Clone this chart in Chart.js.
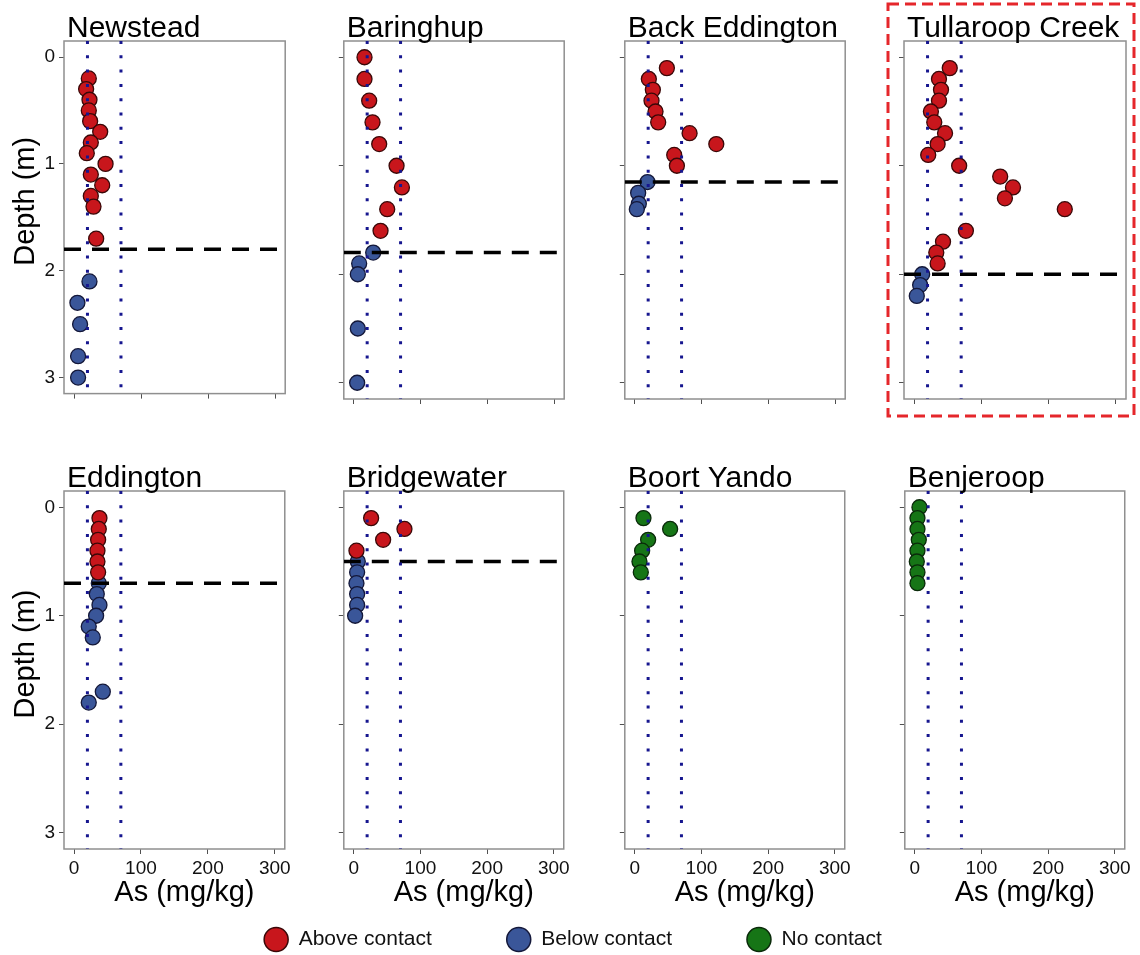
<!DOCTYPE html>
<html>
<head>
<meta charset="utf-8">
<script src="https://cdn.jsdelivr.net/npm/chart.js@4.4.1/dist/chart.umd.min.js"></script>
<style>
  body { margin: 0; background: #fff; width: 1140px; height: 955px; position: relative; overflow: hidden; }
  canvas { position: absolute; }
</style>
</head>
<body>
<script>
const sites = ["Newstead", "Baringhup", "Back Eddington", "Tullaroop Creek",
               "Eddington", "Bridgewater", "Boort Yando", "Benjeroop"];
const groups = ["Above contact", "Below contact", "No contact"];
const contactDepth = [1.8, 1.8, 1.15, 2.0, 0.7, 0.5, null, null];
const guideAs = [20, 70];
const xTicks = [0, 100, 200, 300];
const yTicks = [0, 1, 2, 3];
const xLimits = [-15, 315];
const yLimits = [-0.15, 3.15];
const xTitle = "As (mg/kg)";
const yTitle = "Depth (m)";

// depth (m) / As (mg/kg)
const newsteadAboveDepth = [0.2, 0.3, 0.4, 0.5, 0.6, 0.7, 0.8, 0.9, 1.0, 1.1, 1.2, 1.3, 1.4, 1.7];
const newsteadAboveAs    = [22, 18, 23, 22, 24, 39, 25, 19, 47, 25, 42, 25, 29, 33];
const newsteadBelowDepth = [2.1, 2.3, 2.5, 2.8, 3.0];
const newsteadBelowAs    = [23, 5, 9, 6, 6];

const baringhupAboveDepth = [0.0, 0.2, 0.4, 0.6, 0.8, 1.0, 1.2, 1.4, 1.6];
const baringhupAboveAs    = [16, 16, 23, 28, 38, 64, 72, 50, 40];
const baringhupBelowDepth = [1.8, 1.9, 2.0, 2.5, 3.0];
const baringhupBelowAs    = [29, 8, 6, 6, 5];

const backEddAboveDepth = [0.1, 0.2, 0.3, 0.4, 0.5, 0.6, 0.7, 0.8, 0.9, 1.0];
const backEddAboveAs    = [48, 21, 27, 25, 31, 35, 82, 122, 59, 63];
const backEddBelowDepth = [1.15, 1.25, 1.35, 1.4];
const backEddBelowAs    = [19, 5, 6, 3];

const tullaroopAboveDepth = [0.1, 0.2, 0.3, 0.4, 0.5, 0.6, 0.7, 0.8, 0.9, 1.0, 1.1, 1.2, 1.3, 1.4, 1.6, 1.7, 1.8, 1.9];
const tullaroopAboveAs    = [53, 37, 40, 37, 25, 30, 46, 35, 21, 67, 128, 147, 135, 224, 77, 43, 33, 35];
const tullaroopBelowDepth = [2.0, 2.1, 2.2];
const tullaroopBelowAs    = [12, 9, 4];

const eddingtonAboveDepth = [0.1, 0.2, 0.3, 0.4, 0.5, 0.6];
const eddingtonAboveAs    = [38, 37, 36, 35, 35, 36];
const eddingtonBelowDepth = [0.7, 0.8, 0.9, 1.0, 1.1, 1.2, 1.7, 1.8];
const eddingtonBelowAs    = [37, 34, 38, 33, 22, 28, 43, 22];

const bridgewaterAboveDepth = [0.1, 0.2, 0.3, 0.4];
const bridgewaterAboveAs    = [26, 76, 44, 4];
const bridgewaterBelowDepth = [0.5, 0.6, 0.7, 0.8, 0.9, 1.0];
const bridgewaterBelowAs    = [6, 5, 4, 5, 5, 2];

const boortYandoDepth = [0.1, 0.2, 0.3, 0.4, 0.5, 0.6];
const boortYandoAs    = [13, 53, 20, 11, 7, 9];

const benjeroopDepth = [0.0, 0.1, 0.2, 0.3, 0.4, 0.5, 0.6, 0.7];
const benjeroopAs    = [7, 4, 4, 6, 4, 3, 4, 4];

// [group index, depths, values] per site
const siteSeries = [
  [[0, newsteadAboveDepth, newsteadAboveAs], [1, newsteadBelowDepth, newsteadBelowAs]],
  [[0, baringhupAboveDepth, baringhupAboveAs], [1, baringhupBelowDepth, baringhupBelowAs]],
  [[0, backEddAboveDepth, backEddAboveAs], [1, backEddBelowDepth, backEddBelowAs]],
  [[0, tullaroopAboveDepth, tullaroopAboveAs], [1, tullaroopBelowDepth, tullaroopBelowAs]],
  [[0, eddingtonAboveDepth, eddingtonAboveAs], [1, eddingtonBelowDepth, eddingtonBelowAs]],
  [[0, bridgewaterAboveDepth, bridgewaterAboveAs], [1, bridgewaterBelowDepth, bridgewaterBelowAs]],
  [[2, boortYandoDepth, boortYandoAs]],
  [[2, benjeroopDepth, benjeroopAs]]
];

const groupFill = ["#c8161c", "#3a5699", "#167516"];
const groupEdge = ["#3a0808", "#14183a", "#0a2a0a"];
const family = '"Liberation Sans", Arial, sans-serif';
Chart.defaults.font.family = family;

// plot area layout
const plotLefts = [64, 343, 624, 904];
const plotTops = [41, 491];
const plotW = 222, plotH = 358;

const panelDecor = {
  id: "panelDecor",
  beforeDatasetsDraw(chart) {
    const { ctx, chartArea: a } = chart;
    ctx.save();
    ctx.strokeStyle = "#8f8f8f";
    ctx.lineWidth = 1.5;
    ctx.strokeRect(a.left, a.top, a.right - a.left, a.bottom - a.top);
    ctx.restore();
  },
  afterDraw(chart, args, opts) {
    const { ctx, chartArea: a } = chart;
    ctx.save();
    ctx.fillStyle = "#000";
    ctx.font = "30px " + family;
    ctx.textBaseline = "alphabetic";
    ctx.fillText(opts.title, a.left + 3, a.top - 4);
    ctx.font = "29px " + family;
    if (opts.xTitle) {
      ctx.textAlign = "center";
      ctx.fillText(opts.xTitle, (a.left + a.right) / 2 + 10, a.bottom + 52);
    }
    if (opts.yTitle) {
      ctx.save();
      ctx.translate(a.left - 30, (a.top + a.bottom) / 2 - 16);
      ctx.rotate(-Math.PI / 2);
      ctx.textAlign = "center";
      ctx.fillText(opts.yTitle, 0, 0);
      ctx.restore();
    }
    if (opts.highlight) {
      ctx.strokeStyle = "#e5262b";
      ctx.lineWidth = 3;
      ctx.setLineDash([11, 6]);
      ctx.strokeRect(a.left - 16, a.top - 37, a.right - a.left + 24, a.bottom - a.top + 54);
    }
    ctx.restore();
  }
};

function toPoints(depths, values) {
  return depths.map((d, k) => ({ x: values[k], y: d }));
}

sites.forEach((name, i) => {
  const col = i % 4, row = Math.floor(i / 4);
  const first = col === 0, bottom = row === 1, hl = name === "Tullaroop Creek";
  const yW = first ? 64 : 8, xH = bottom ? 70 : 8;
  const pad = { left: hl ? 12 : 0, right: hl ? 14 : 8, top: bottom ? 45 : 41, bottom: hl ? 14 : 2 };

  const cv = document.createElement("canvas");
  cv.width = yW + pad.left + plotW + pad.right;
  cv.height = pad.top + plotH + xH + pad.bottom;
  cv.style.left = (plotLefts[col] - yW - pad.left) + "px";
  cv.style.top = (plotTops[row] - pad.top) + "px";
  document.body.appendChild(cv);

  const datasets = [];
  guideAs.forEach(g => datasets.push({
    data: [{ x: g, y: yLimits[0] }, { x: g, y: yLimits[1] }],
    showLine: true, pointRadius: 0, borderColor: "#16168f", borderWidth: 3, borderDash: [3, 11.3]
  }));
  if (contactDepth[i] !== null) datasets.push({
    data: [{ x: xLimits[0], y: contactDepth[i] }, { x: xLimits[1], y: contactDepth[i] }],
    showLine: true, pointRadius: 0, borderColor: "#000", borderWidth: 3.5, borderDash: [17, 11]
  });
  siteSeries[i].forEach(([g, depths, values]) => datasets.push({
    label: groups[g],
    data: toPoints(depths, values),
    pointRadius: 7.5, pointBackgroundColor: groupFill[g], pointBorderColor: groupEdge[g], pointBorderWidth: 1.3
  }));

  const axisGrid = { display: true, drawOnChartArea: false, drawTicks: true, tickLength: 5, color: "#505050" };
  new Chart(cv, {
    type: "scatter",
    data: { datasets },
    options: {
      responsive: false, animation: false, devicePixelRatio: 1,
      layout: { padding: pad },
      plugins: {
        legend: { display: false }, tooltip: { enabled: false },
        panelDecor: { title: name, xTitle: bottom ? xTitle : null, yTitle: first ? yTitle : null, highlight: hl }
      },
      scales: {
        x: {
          type: "linear", min: xLimits[0], max: xLimits[1],
          afterBuildTicks: s => { s.ticks = xTicks.map(v => ({ value: v })); },
          afterFit: s => { s.height = xH; },
          grid: axisGrid, border: { display: false },
          ticks: { display: bottom, font: { size: 19 }, color: "#111", padding: 3, maxRotation: 0 }
        },
        y: {
          type: "linear", reverse: true, min: yLimits[0], max: yLimits[1],
          afterBuildTicks: s => { s.ticks = yTicks.map(v => ({ value: v })); },
          afterFit: s => { s.width = yW; },
          grid: axisGrid, border: { display: false },
          ticks: { display: first, font: { size: 19 }, color: "#111", padding: 4 }
        }
      }
    },
    plugins: [panelDecor]
  });
});

// shared legend (tall canvas so the wide label padding is not clipped)
const lg = document.createElement("canvas");
lg.width = 1134; lg.height = 420;
lg.style.left = "6px"; lg.style.top = "854px";
document.body.appendChild(lg);
new Chart(lg, {
  type: "scatter",
  data: {
    datasets: groups.map((g, k) => ({ label: g, data: [], backgroundColor: groupFill[k], borderColor: groupEdge[k], borderWidth: 1.5 }))
  },
  options: {
    responsive: false, animation: false, devicePixelRatio: 1,
    scales: { x: { display: false }, y: { display: false } },
    plugins: {
      tooltip: { enabled: false },
      legend: {
        display: true, position: "top",
        labels: { usePointStyle: true, pointStyle: "circle", pointStyleWidth: 24, boxHeight: 17, padding: 75, color: "#111", font: { size: 21 } }
      }
    }
  }
});
</script>
</body>
</html>
